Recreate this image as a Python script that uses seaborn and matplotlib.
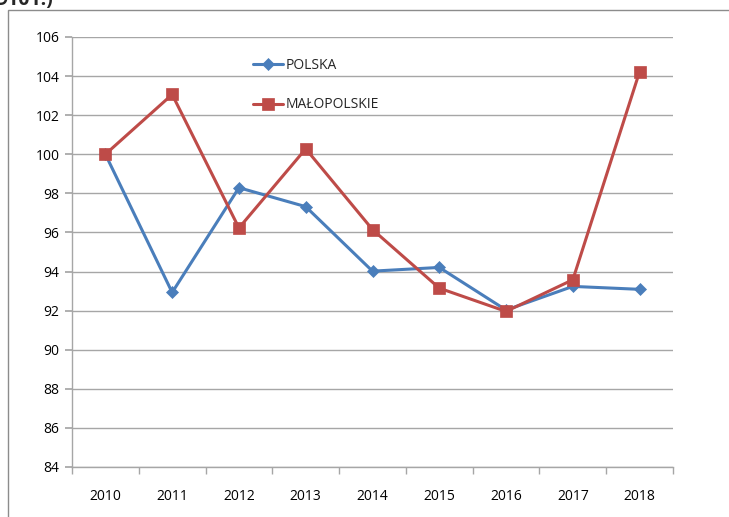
import matplotlib
matplotlib.use("Agg")
import matplotlib.pyplot as plt
import seaborn as sns
import pandas as pd
from matplotlib.patches import Rectangle

years = ["2010", "2011", "2012", "2013", "2014", "2015", "2016", "2017", "2018"]
polska = [100.0, 92.93, 98.29, 97.32, 94.02, 94.21, 92.03, 93.24, 93.09]
malopolskie = [100.0, 103.06, 96.23, 100.28, 96.15, 93.15, 91.96, 93.58, 104.23]
series_names = ["POLSKA", "MAŁOPOLSKIE"]
y_ticks = [84, 86, 88, 90, 92, 94, 96, 98, 100, 102, 104, 106]

sns.set_theme(style="white")
plt.rcParams['font.family'] = ['Open Sans', 'DejaVu Sans']

df = pd.DataFrame({
    "year": years * 2,
    "value": polska + malopolskie,
    "series": [series_names[0]] * len(years) + [series_names[1]] * len(years),
})

fig = plt.figure(figsize=(7.29, 5.17), dpi=100)
ax = fig.add_axes([72 / 729, 1 - 467 / 517, (673 - 72) / 729, (467 - 37) / 517])

colors = {"POLSKA": "#4a7ebb", "MAŁOPOLSKIE": "#be4b48"}
sns.lineplot(data=df, x="year", y="value", hue="series", style="series",
             markers={"POLSKA": "D", "MAŁOPOLSKIE": "s"}, dashes=False,
             palette=colors, linewidth=2.2, markersize=8, markeredgewidth=0.5,
             sort=False, ax=ax)
for line in ax.lines:
    if line.get_marker() == "D":
        line.set_markersize(6.5)
    line.set_markeredgecolor(line.get_color())

ax.set_xlim(-0.5, len(years) - 0.5)
ax.set_ylim(84, 106)
ax.set_yticks(y_ticks)
ax.set_yticklabels([str(t) for t in y_ticks], fontsize=10)
ax.set_xticks(range(len(years)))
ax.set_xticklabels(years, fontsize=10)
ax.set_xlabel("")
ax.set_ylabel("")

ax.grid(axis="y", color="#a6a6a6", linewidth=1.0)
ax.set_axisbelow(True)
for s in ["top", "right"]:
    ax.spines[s].set_visible(False)
for s in ["left", "bottom"]:
    ax.spines[s].set_color("#a6a6a6")
    ax.spines[s].set_linewidth(1.0)

ax.tick_params(axis="y", which="major", left=True, length=5, color="#a6a6a6",
               pad=4, labelcolor="#000000")
ax.tick_params(axis="x", which="major", bottom=False, pad=10, labelcolor="#000000")
ax.set_xticks([i + 0.5 for i in range(-1, len(years))], minor=True)
ax.tick_params(axis="x", which="minor", bottom=True, length=5, color="#a6a6a6")

leg = ax.legend(loc="upper left", bbox_to_anchor=(0.28, 0.98), frameon=False,
                fontsize=10, labelspacing=1.75, handlelength=2.2,
                handletextpad=0.2)

fig.patches.append(Rectangle((8 / 729, -0.1), 1.0, 1 - 10 / 517 + 0.1,
                             transform=fig.transFigure, fill=False,
                             edgecolor="#8c8c8c", linewidth=1.0))
fig.text(-0.005, 1.0, "9101.)", fontsize=14, fontweight="bold",
         va="center", ha="left")

fig.savefig("out.png", dpi=100)
